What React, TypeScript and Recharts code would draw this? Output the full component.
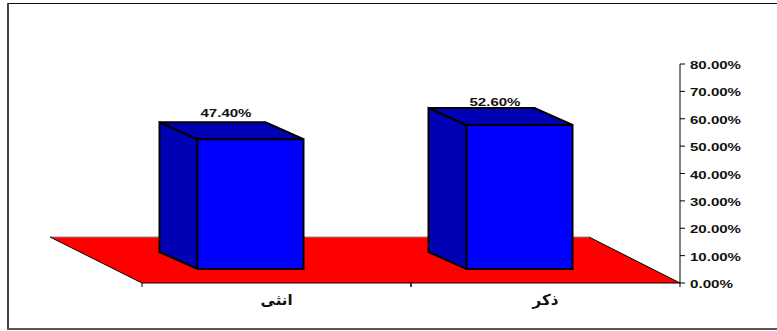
import React from "react";
import { BarChart, Bar, XAxis, YAxis, ReferenceArea, LabelList } from "recharts";

const categories = ["انثى", "ذكر"];
const shares = [47.4, 52.6];
const axisTicks = [0, 10, 20, 30, 40, 50, 60, 70, 80];
const floorDepthValue = 16.8;

const rows = categories.map((name, i) => ({ name, share: shares[i] }));

const WIDTH = 777;
const HEIGHT = 331;
const PLOT = { left: 142, right: 680, top: 64, bottom: 283 };
const BAR_SHIFT_X = -26.5;
const BAR_LIFT = 14;
const DEPTH_X = 38;
const DEPTH_Y = 17;
const FLOOR_SKEW = 91;
const LABEL_SHIFT_X = -51;
const LABEL_GAPS = [5, 2.5];
const LABEL_FONT = "'Liberation Sans', Arial, sans-serif";

const pct = (v: number) => `${v.toFixed(2)}%`;

// Prism standing on the floor: front face plus darker top and left faces.
function PrismBar(props: any) {
  const { x, y, width, height } = props;
  const l = x + BAR_SHIFT_X;
  const r = l + width;
  const t = y - BAR_LIFT;
  const b = t + height;
  const pts = (a: number[][]) => a.map((p) => p.join(",")).join(" ");
  const edge = { stroke: "#000", strokeWidth: 2, strokeLinejoin: "miter" as const };
  return (
    <g>
      <polygon
        points={pts([[l, t], [l - DEPTH_X, t - DEPTH_Y], [l - DEPTH_X, b - DEPTH_Y], [l, b]])}
        fill="#0000b4"
        {...edge}
      />
      <polygon
        points={pts([[l, t], [l - DEPTH_X, t - DEPTH_Y], [r - DEPTH_X, t - DEPTH_Y], [r, t]])}
        fill="#0000b4"
        {...edge}
      />
      <rect x={l} y={t} width={width} height={height} fill="#0000ff" {...edge} />
    </g>
  );
}

// Red parallelogram that the bars stand on.
function Floor(props: any) {
  const { x, y, width, height } = props;
  const bottom = y + height;
  return (
    <g>
      <polygon
        points={`${x},${bottom} ${x + width},${bottom} ${x + width - FLOOR_SKEW},${y} ${x - FLOOR_SKEW - 1},${y}`}
        fill="#ff0000"
      />
      <line x1={x - FLOOR_SKEW - 1} y1={y} x2={x + width - FLOOR_SKEW} y2={y} stroke="#8a8a8a" strokeWidth={1} />
      <line x1={x - FLOOR_SKEW - 1} y1={y} x2={x} y2={bottom} stroke="#000" strokeWidth={1} />
      <line x1={x + width - FLOOR_SKEW} y1={y} x2={x + width} y2={bottom} stroke="#000" strokeWidth={1} />
    </g>
  );
}

function ValueTick(props: any) {
  const { x, y, payload } = props;
  const text = pct(payload.value);
  return (
    <text
      x={x + 3}
      y={y + 5}
      fontFamily={LABEL_FONT}
      fontWeight="bold"
      fontSize={11}
      fill="#111"
      textLength={text.length === 5 ? 43 : 51}
      lengthAdjust="spacingAndGlyphs"
    >
      {text}
    </text>
  );
}

// Category name at the band centre, tick marks at the band edges.
function CategoryTick(props: any) {
  const { x, payload } = props;
  const half = (PLOT.right - PLOT.left) / categories.length / 2;
  const base = PLOT.bottom;
  return (
    <g>
      <line x1={x - half} y1={base} x2={x - half} y2={base + 4} stroke="#000" />
      <line x1={x + half} y1={base} x2={x + half} y2={base + 4} stroke="#000" />
      <text
        x={x}
        y={base + 22}
        textAnchor="middle"
        fontFamily="'DejaVu Sans', sans-serif"
        fontWeight="bold"
        fontSize={15}
        fill="#111"
      >
        {payload.value}
      </text>
    </g>
  );
}

function ValueLabel(props: any) {
  const { x, y, width, value, index } = props;
  return (
    <text
      x={x + width / 2 + LABEL_SHIFT_X}
      y={y - BAR_LIFT - DEPTH_Y - LABEL_GAPS[index]}
      textAnchor="middle"
      fontFamily={LABEL_FONT}
      fontWeight="bold"
      fontSize={10}
      fill="#111"
      textLength={51}
      lengthAdjust="spacingAndGlyphs"
    >
      {pct(value)}
    </text>
  );
}

const frameLine = (left: number, top: number, width: number, height: number, color: string) => (
  <div style={{ position: "absolute", left, top, width, height, background: color }} />
);

export default function App() {
  return (
    <div style={{ position: "absolute", left: 0, top: 0, width: WIDTH, height: HEIGHT, background: "#fff" }}>
      {frameLine(7, 3, 770, 1, "#111")}
      {frameLine(7, 3, 2, 326, "#444")}
      {frameLine(7, 328, 770, 2, "#555")}
      <BarChart
        width={WIDTH}
        height={HEIGHT}
        data={rows}
        margin={{ left: PLOT.left, right: 0, top: PLOT.top, bottom: 0 }}
        style={{ position: "absolute", left: 0, top: 0 }}
      >
        <XAxis
          dataKey="name"
          height={HEIGHT - PLOT.bottom}
          axisLine={{ stroke: "#000" }}
          tickLine={false}
          tick={<CategoryTick />}
          interval={0}
        />
        <YAxis
          orientation="right"
          domain={[0, 80]}
          ticks={axisTicks}
          width={WIDTH - PLOT.right}
          axisLine={{ stroke: "#000" }}
          tickLine={{ stroke: "#000" }}
          tickSize={5}
          tick={<ValueTick />}
          interval={0}
        />
        <ReferenceArea y1={0} y2={floorDepthValue} ifOverflow="visible" shape={<Floor />} />
        <Bar dataKey="share" barSize={106} isAnimationActive={false} shape={<PrismBar />}>
          <LabelList dataKey="share" content={<ValueLabel />} />
        </Bar>
      </BarChart>
    </div>
  );
}
